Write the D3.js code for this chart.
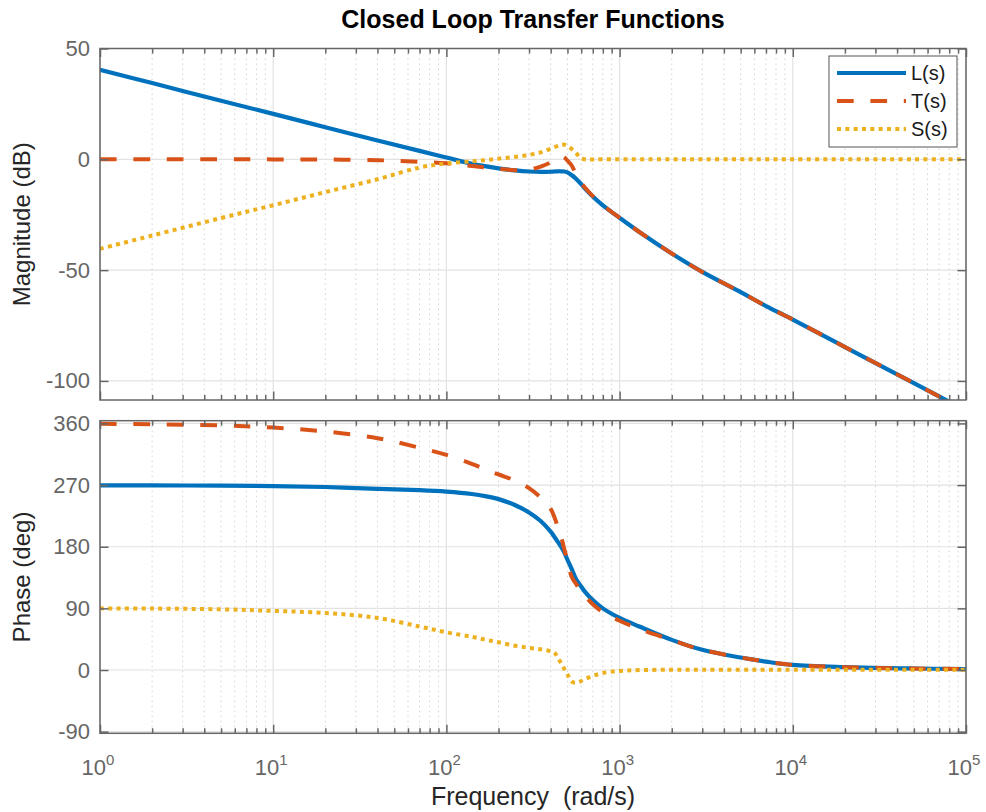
<!DOCTYPE html>
<html><head><meta charset="utf-8">
<script src="https://cdn.jsdelivr.net/npm/d3@7"></script>
<style>
body{margin:0;background:#fff;}
svg{display:block;font-family:"Liberation Sans",Arial,Helvetica,sans-serif;}
</style>
</head><body>
<svg id="chart" width="986" height="812"></svg>
<script>
// ---------------- data ----------------
const freq   = [1,2,5,10,20,40,70,100,140,170,200,250,300,350,400,420,440,460,480,500,530,560,590,630,700,800,1000,1300,2000,3000,5000,7000,10000,20000,50000,100000];
const magL   = [40.4,34.4,26.4,20.5,14.5,8.5,3.8,0.8,-2.0,-3.2,-4.1,-5.0,-5.5,-5.7,-5.6,-5.5,-5.4,-5.4,-5.5,-5.9,-7.2,-8.8,-10.6,-13.1,-16.8,-20.75,-26.4,-32.8,-42.5,-50.8,-59.9,-66.2,-72.3,-84.7,-101.0,-113.4];
const magT   = [0,0,-0.01,-0.03,-0.1,-0.4,-1.1,-1.8,-3.0,-3.8,-4.3,-4.9,-4.7,-3.3,-1.4,-0.6,0.3,1.3,0.8,-0.6,-2.9,-6.8,-9.8,-12.7,-16.6,-20.7,-26.4,-32.8,-42.5,-50.8,-59.9,-66.2,-72.3,-84.7,-101.0,-113.4];
const magS   = [-40.4,-34.4,-26.5,-20.7,-14.8,-9.0,-3.7,-1.9,-0.9,-0.3,0.3,1.1,2.0,3.1,4.8,5.5,6.1,6.6,6.6,6.0,4.6,3.0,0.8,0.0,-0.05,0,0,0,0,0,0,0,0,0,0,0];
const phaseL = [269.7,269.5,269.2,268.6,267.2,264.6,262.6,260.5,257,253.5,249.5,240.5,230,217.5,202,194.6,187,179.6,171.4,161,147,133,124.5,114.5,102,90,76,63.5,44,29.5,18.2,12.3,7.4,4.2,2.2,1.4];
const phaseT = [359.4,358.8,357.1,354.0,348.3,338.5,324.5,314,301,292.4,285.5,276.5,265.5,252,235.3,223.4,209,194.2,176,159.3,135.4,126,117,108,96,84.5,72,60,43.8,29.5,18.2,12.3,7.4,4.2,2.2,1.4];
const phaseS = [90,89.7,88.6,86.3,83.3,76,63.5,55,48.5,44,40.5,35.3,32.4,30.3,27.5,25.5,18,9.6,1.3,-6.4,-17,-18.5,-17,-13.3,-8.8,-4.4,-1.3,-0.1,0.3,0.4,0.4,0.4,0.4,0.4,0.4,0.4];
const seriesNames = ["L(s)","T(s)","S(s)"];
const magTicks   = [-100,-50,0,50];
const phaseTicks = [-90,0,90,180,270,360];
const freqTicks  = [1,10,100,1000,10000,100000];
const titleText  = "Closed Loop Transfer Functions";

// ---------------- layout & style ----------------
const colors = ["#0072BD","#D95319","#EDB120"];
const dashes = [null,"16.7,16.7","4,4.33"];
const widths = [4.2,4,4];
const L = 100, R = 966;
const top1 = 48.5, bot1 = 400;
const top2 = 420.7, bot2 = 733.3;
const frameCol = "#666666", tickTextCol = "#666666", labelCol = "#262626";

const svg = d3.select("#chart");
const x = d3.scaleLog().domain([1,1e5]).range([L,R]);
const yMag = d3.scaleLinear().domain([-108.6,50]).range([bot1,top1]);
const yPh  = d3.scaleLinear().domain([-92.4,364]).range([bot2,top2]);

const minorTicks = x.ticks().filter(v => freqTicks.indexOf(v) < 0);

function panel(y, yTicks, topY, botY, series, id, showX){
  const g = svg.append("g");
  svg.append("clipPath").attr("id",id).append("rect")
     .attr("x",L).attr("y",topY).attr("width",R-L).attr("height",botY-topY);
  // grid
  const grid = g.append("g");
  grid.selectAll("line.minor").data(minorTicks).enter().append("line")
    .attr("x1",d=>x(d)).attr("x2",d=>x(d)).attr("y1",topY).attr("y2",botY)
    .attr("stroke","#d2d2d2").attr("stroke-width",1).attr("stroke-dasharray","1.5,3.5");
  grid.selectAll("line.majx").data(freqTicks).enter().append("line")
    .attr("x1",d=>x(d)).attr("x2",d=>x(d)).attr("y1",topY).attr("y2",botY)
    .attr("stroke","#e2e2e2").attr("stroke-width",1.2);
  grid.selectAll("line.majy").data(yTicks).enter().append("line")
    .attr("x1",L).attr("x2",R).attr("y1",d=>y(d)).attr("y2",d=>y(d))
    .attr("stroke","#e2e2e2").attr("stroke-width",1.2);

  // curves
  const cg = g.append("g").attr("clip-path",`url(#${id})`);
  series.forEach((vals,i)=>{
    const line = d3.line().x((d,k)=>x(freq[k])).y(d=>y(d)).curve(d3.curveCatmullRom.alpha(0.5));
    cg.append("path").datum(vals).attr("d",line)
      .attr("fill","none").attr("stroke",colors[i]).attr("stroke-width",widths[i])
      .attr("stroke-dasharray",dashes[i]).attr("stroke-linejoin","round");
  });

  // axes (inward ticks)
  const styleAxis = sel => {
    sel.select(".domain").remove();
    sel.selectAll(".tick line").attr("stroke",frameCol).attr("stroke-width",1.5);
    sel.selectAll(".tick text").attr("fill",tickTextCol).style("font-size","22px")
       .style("font-family",'"Liberation Sans",Arial,sans-serif');
  };
  g.append("g").attr("transform",`translate(${L},0)`)
    .call(d3.axisLeft(y).tickValues(yTicks).tickSizeInner(-8.5).tickSizeOuter(0).tickPadding(10)
           .tickFormat(d => String(d)))
    .call(styleAxis);
  g.append("g").attr("transform",`translate(${R},0)`)
    .call(d3.axisRight(y).tickValues(yTicks).tickSizeInner(-8.5).tickSizeOuter(0).tickFormat(""))
    .call(styleAxis);
  [[topY,d3.axisTop],[botY,d3.axisBottom]].forEach(([yy,ax])=>{
    g.append("g").attr("transform",`translate(0,${yy})`)
      .call(ax(x).tickValues(minorTicks).tickSizeInner(-5).tickSizeOuter(0).tickFormat(""))
      .call(styleAxis);
    g.append("g").attr("transform",`translate(0,${yy})`)
      .call(ax(x).tickValues(freqTicks).tickSizeInner(-8.5).tickSizeOuter(0).tickFormat(""))
      .call(styleAxis);
  });
  if(showX){
    const xl = g.append("g");
    freqTicks.forEach(v=>{
      const t = xl.append("text").attr("x",x(v)-2).attr("y",botY+42)
        .attr("text-anchor","middle").attr("fill",tickTextCol)
        .style("font-size","22px");
      t.append("tspan").text("10");
      t.append("tspan").attr("dy",-10).style("font-size","15px").text(String(Math.round(Math.log10(v))));
    });
  }
  g.append("rect").attr("x",L).attr("y",topY).attr("width",R-L).attr("height",botY-topY)
    .attr("fill","none").attr("stroke",frameCol).attr("stroke-width",1.5);
  return g;
}

panel(yMag, magTicks, top1, bot1, [magL,magT,magS], "clipMag", false);
panel(yPh, phaseTicks, top2, bot2, [phaseL,phaseT,phaseS], "clipPh", true);

// legend
const lg = svg.append("g");
const lx = 829, ly = 56, lw = 128, lh = 91;
lg.append("rect").attr("x",lx).attr("y",ly).attr("width",lw).attr("height",lh)
  .attr("fill","#fff").attr("stroke","#555").attr("stroke-width",1);
seriesNames.forEach((name,i)=>{
  const yy = ly + 17 + i*28;
  lg.append("line").attr("x1",lx+8).attr("x2",lx+77).attr("y1",yy).attr("y2",yy)
    .attr("stroke",colors[i]).attr("stroke-width",widths[i]).attr("stroke-dasharray",dashes[i]);
  lg.append("text").attr("x",lx+82).attr("y",yy+7).attr("fill","#1a1a1a")
    .style("font-size","20px").text(name);
});

// titles & labels
svg.append("text").attr("x",(L+R)/2).attr("y",28).attr("text-anchor","middle")
  .attr("fill","#000").style("font-size","25px").style("font-weight","bold").text(titleText);
svg.append("text").attr("x",(L+R)/2).attr("y",805).attr("text-anchor","middle")
  .attr("fill",labelCol).style("font-size","25px").style("white-space","pre").text("Frequency  (rad/s)");
svg.append("text").attr("transform",`translate(30,${(top1+bot1)/2}) rotate(-90)`).attr("text-anchor","middle")
  .attr("fill",labelCol).style("font-size","24px").text("Magnitude (dB)");
svg.append("text").attr("transform",`translate(30,${(top2+bot2)/2}) rotate(-90)`).attr("text-anchor","middle")
  .attr("fill",labelCol).style("font-size","24px").text("Phase (deg)");
</script>
</body></html>
